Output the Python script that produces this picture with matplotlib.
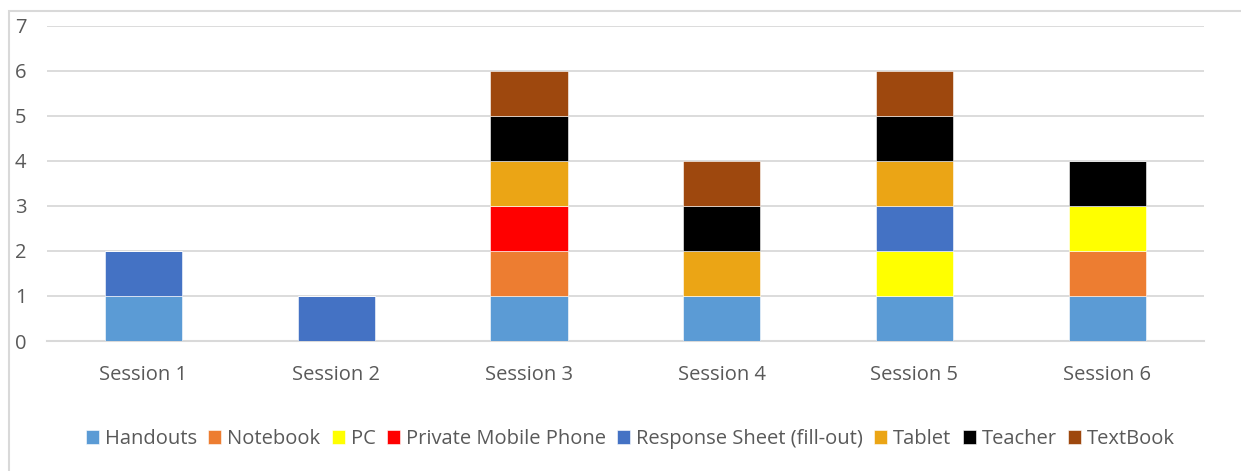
import numpy as np
import matplotlib
matplotlib.use("Agg")
import matplotlib.pyplot as plt
from matplotlib.patches import Rectangle

plt.rcParams['font.family'] = ['Open Sans', 'DejaVu Sans']

sessions = ["Session 1", "Session 2", "Session 3", "Session 4", "Session 5", "Session 6"]
handouts = [1, 0, 1, 1, 1, 1]
notebook = [0, 0, 1, 0, 0, 1]
pc = [0, 0, 0, 0, 1, 1]
mobile = [0, 0, 1, 0, 0, 0]
response_sheet = [1, 1, 0, 0, 1, 0]
tablet = [0, 0, 1, 1, 1, 0]
teacher = [0, 0, 1, 1, 1, 1]
textbook = [0, 0, 1, 1, 1, 0]

series = [
    ("Handouts", handouts, "#5B9BD5"),
    ("Notebook", notebook, "#ED7D31"),
    ("PC", pc, "#FFFF00"),
    ("Private Mobile Phone", mobile, "#FF0000"),
    ("Response Sheet (fill-out)", response_sheet, "#4472C4"),
    ("Tablet", tablet, "#EBA515"),
    ("Teacher", teacher, "#000000"),
    ("TextBook", textbook, "#9E480E"),
]

txt = "#595959"
fig = plt.figure(figsize=(12.41, 4.71), dpi=100)
ax = fig.add_axes([0.0379, 0.276, 0.932, 0.669])

x = np.arange(len(sessions))
bottom = np.zeros(len(sessions))
for name, vals, col in series:
    vals = np.array(vals, dtype=float)
    ax.bar(x, vals, 0.4, bottom=bottom, color=col, label=name,
           edgecolor="white", linewidth=0.4, zorder=3)
    bottom += vals

ax.set_xlim(-0.5, 5.5)
ax.set_ylim(0, 7)
ax.set_yticks(range(8))
ax.set_xticks(x)
ax.set_xticklabels(sessions)
ax.grid(axis="y", color="#D9D9D9", linewidth=1.3, zorder=0)
for s in ["top", "right", "left"]:
    ax.spines[s].set_visible(False)
ax.spines["bottom"].set_color("#D9D9D9")
ax.spines["bottom"].set_linewidth(1.5)
ax.tick_params(axis="both", length=0, colors=txt, labelsize=14.5)
ax.tick_params(axis="x", pad=17)
ax.tick_params(axis="y", pad=23)
for lbl in ax.get_yticklabels():
    lbl.set_horizontalalignment("left")

leg = fig.legend(loc="center", bbox_to_anchor=(0.508, 0.068), ncol=8, frameon=False,
                 fontsize=14.5, handlelength=0.65, handleheight=0.65, handletextpad=0.3,
                 columnspacing=0.55)
for t in leg.get_texts():
    t.set_color(txt)

fig.patches.append(Rectangle((9 / 1241, -0.1), 1.2, 1 - 11 / 471 + 0.1,
                             transform=fig.transFigure, fill=False,
                             edgecolor="#D9D9D9", linewidth=1.5))

fig.savefig("out.png", dpi=100)
